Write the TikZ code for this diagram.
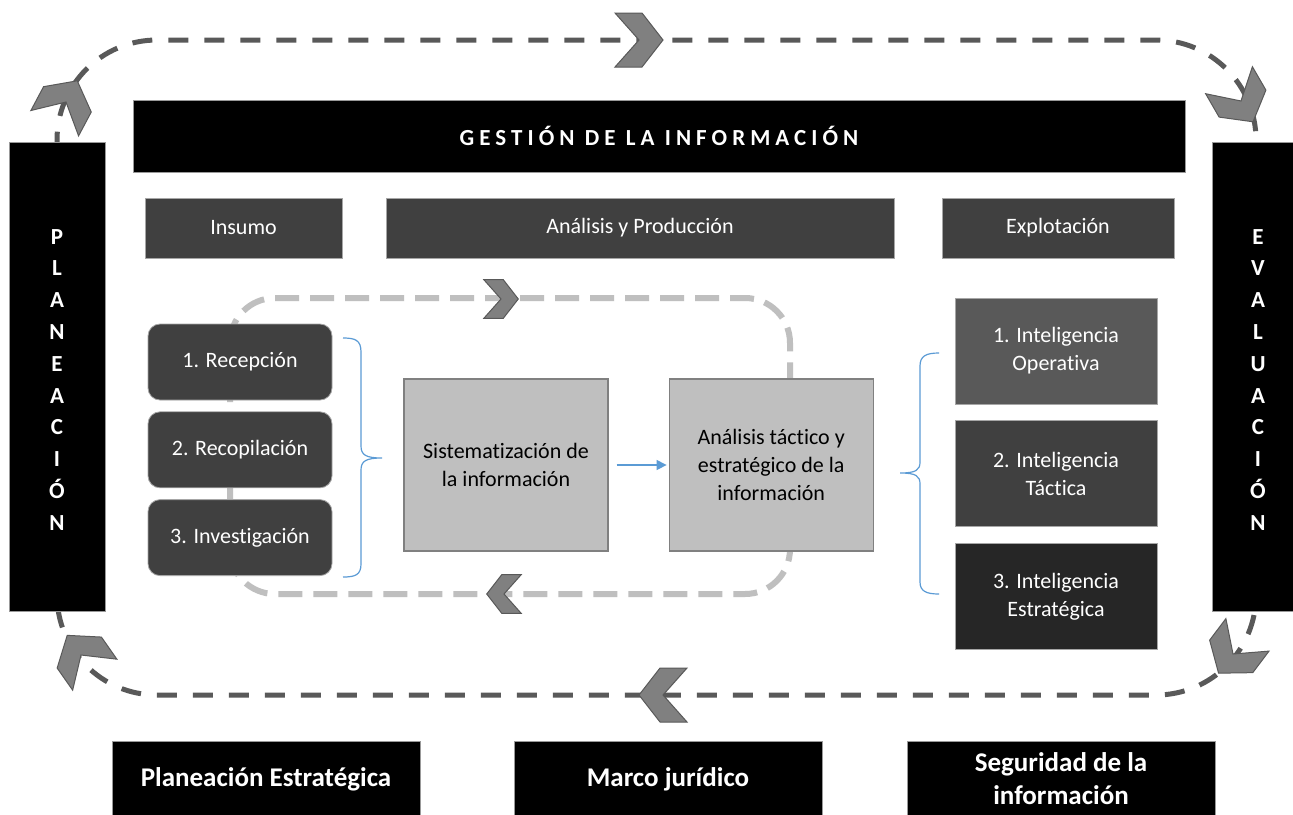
\documentclass[tikz,border=0pt]{standalone}
\usepackage{fontspec}
\setmainfont{Carlito}[Ligatures=NoCommon]
\newfontfamily\espaciada[LetterSpace=22]{Carlito}
\usetikzlibrary{positioning,arrows.meta}

\definecolor{grisoscuro}{HTML}{404040}
\definecolor{grismedio}{HTML}{595959}
\definecolor{grisnegro}{HTML}{262626}
\definecolor{grisclaro}{HTML}{BFBFBF}
\definecolor{grischevron}{HTML}{808080}
\definecolor{azulllave}{HTML}{5B9BD5}

\newcommand{\txtnormal}{\fontsize{11}{14}\selectfont}
\newcommand{\txtpie}{\fontsize{13.5}{16.5}\selectfont\bfseries}
\newcommand{\txtletra}{\fontsize{11.5}{14}\selectfont\bfseries}

\tikzset{
  chevron/.pic={
    \filldraw[fill=grischevron, draw=grismedio, line width=0.5pt] (0,0) -- (-24,27) -- (3,27) -- (24,0) -- (3,-27) -- (-24,-27) -- cycle;
  }
}

\begin{document}
\begin{tikzpicture}[x=0.5pt, y=-0.5pt,
    barra/.style={fill=black, draw=black!40, line width=0.4pt, inner sep=0pt},
    caja/.style={fill=grisoscuro, draw=black!35, line width=0.4pt, text=white, font=\txtnormal, inner sep=2pt, align=center},
    redonda/.style={caja, rounded corners=6pt, minimum width=92pt, minimum height=38pt},
    gris/.style={fill=grisclaro, draw=grischevron, line width=0.6pt, font=\txtnormal, align=center, minimum width=102pt, minimum height=86pt},
    intel/.style={caja, minimum width=101pt, minimum height=53pt},
    pie/.style={barra, text=white, font=\txtpie, align=center, minimum width=154pt, minimum height=38pt},
    letra/.style={text=white, font=\txtletra, inner sep=0pt, text height=8pt, text depth=0pt},
    lazo/.style={draw=grismedio, line width=2.5pt, dash pattern=on 10pt off 8pt},
    lazoint/.style={draw=grisclaro, line width=3pt, dash pattern=on 12pt off 5.5pt},
    llave/.style={draw=azulllave, line width=0.6pt},
  ]
  \fill[white] (0,0) rectangle (1293,814);
  \useasboundingbox (0,0) rectangle (1293,814);

  % ciclo exterior e interior
  \draw[lazo, rounded corners=50pt] (57,40) rectangle (1256,695);
  \draw[lazoint, rounded corners=22.5pt] (230,298) rectangle (790,594);

  % barras
  \node[barra, minimum width=526pt, minimum height=36pt, text=white, font=\espaciada\txtletra] (gestion) at (659,136) {GESTIÓN DE LA INFORMACIÓN};
  \node[barra, minimum width=48pt, minimum height=234.5pt] (planeacion) at (57,376.5) {};
  \node[barra, minimum width=46pt, minimum height=234.5pt] (evaluacion) at (1258,376.5) {};
  \foreach \l [count=\i from 0] in {P,L,A,N,E,A,C,I,Ó,N}
    \node[letra] (pl\i) at (57,{236+31.8*\i}) {\l};
  \foreach \l [count=\i from 0] in {E,V,A,L,U,A,C,I,Ó,N}
    \node[letra] (ev\i) at (1258,{236+31.8*\i}) {\l};

  % encabezados
  \node[caja, minimum width=98.5pt, minimum height=30pt] (insumo) at (243.5,228) {Insumo};
  \node[caja, minimum width=254pt, minimum height=30pt] (analisis) at (640,228) {Análisis y Producción};
  \node[caja, minimum width=116pt, minimum height=30pt] (explotacion) at (1058,228) {Explotación};

  % insumo
  \node[redonda] (recepcion) at (240,362) {1. Recepción};
  \node[redonda, below=5.5pt of recepcion] (recopilacion) {2. Recopilación};
  \node[redonda, below=5.5pt of recopilacion] (investigacion) {3. Investigación};
  \draw[llave] (343,338) .. controls (355,338) and (361,340) .. (361,352) -- (361,446)
    .. controls (361,455) and (366,458) .. (382,458) .. controls (366,458) and (361,461) .. (361,470)
    -- (361,564) .. controls (361,575) and (355,577) .. (343,577);

  % analisis y produccion
  \node[gris] (sistema) at (506,465) {Sistematización de\\la información};
  \node[gris, right=30pt of sistema] (tactico) {Análisis táctico y\\estratégico de la\\información};
  \draw[azulllave, line width=0.6pt, -{Triangle[length=5pt, width=5pt]}, shorten <=4pt, shorten >=1pt] (sistema) -- (tactico);

  % explotacion
  \node[intel, fill=grismedio] (operativa) at (1056,351) {1. Inteligencia\\Operativa};
  \node[intel, below=8pt of operativa] (tactica) {2. Inteligencia\\Táctica};
  \node[intel, fill=grisnegro, below=8pt of tactica] (estrategica) {3. Inteligencia\\Estratégica};
  \draw[llave] (939,353) .. controls (926,353) and (920,356) .. (920,366) -- (920,462)
    .. controls (920,470) and (916,473) .. (900,473) .. controls (916,473) and (920,476) .. (920,484)
    -- (920,582) .. controls (920,591) and (926,594) .. (939,594);

  % base
  \node[pie] (planest) at (266,779) {Planeación Estratégica};
  \node[pie] (marco) at (668,779) {Marco jurídico};
  \node[pie] (seguridad) at (1061,779) {Seguridad de la\\información};

  % flechas del ciclo
  \pic[rotate=62] at (66,102) {chevron};
  \pic at (639,40) {chevron};
  \pic[rotate=-60] at (1241,101) {chevron};
  \pic[rotate=-127] at (1233,654) {chevron};
  \pic[rotate=180] at (663,695) {chevron};
  \pic[rotate=125] at (81,655) {chevron};
  \pic[scale=0.72] at (501,299) {chevron};
  \pic[scale=0.72, rotate=180] at (504,594) {chevron};
\end{tikzpicture}
\end{document}
